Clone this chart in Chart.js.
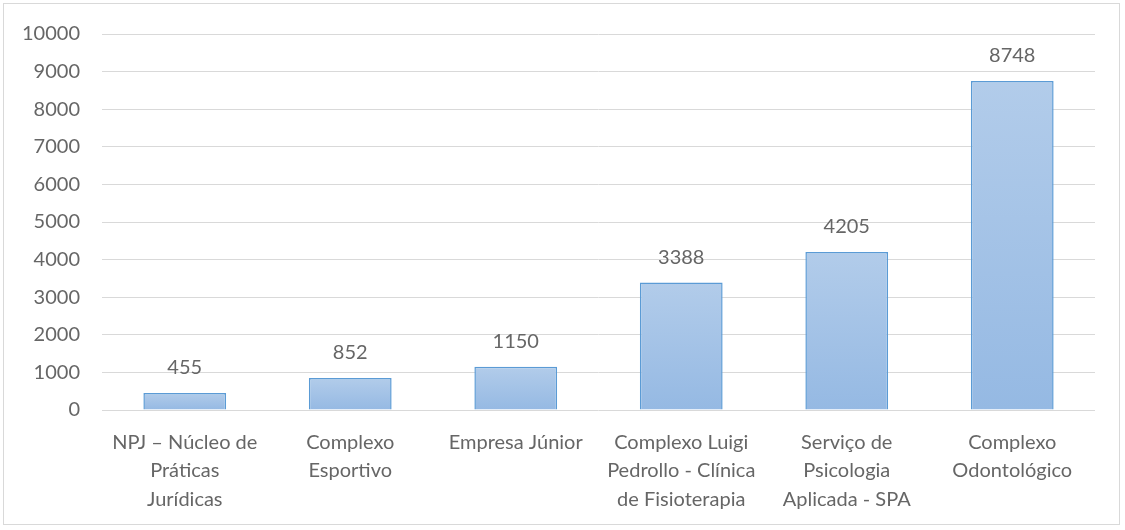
<!DOCTYPE html>
<html>
<head>
<meta charset="utf-8">
<script src="https://cdn.jsdelivr.net/npm/chart.js@4"></script>
<style>
  html, body { margin: 0; padding: 0; background: #fff; }
  #wrap { position: relative; width: 1125px; height: 530px; }
  #frame { position: absolute; left: 3px; top: 3px; width: 1117px; height: 522px; border: 1px solid #D9D9D9; box-sizing: border-box; pointer-events: none; }
</style>
</head>
<body>
<div id="wrap">
  <canvas id="chart" width="1125" height="530"></canvas>
  <div id="frame"></div>
</div>
<script>
const categories = [
    ['NPJ – Núcleo de', 'Práticas', 'Jurídicas'],
    ['Complexo', 'Esportivo'],
    ['Empresa Júnior'],
    ['Complexo Luigi', 'Pedrollo - Clínica', 'de Fisioterapia'],
    ['Serviço de', 'Psicologia', 'Aplicada - SPA'],
    ['Complexo', 'Odontológico']
];
const values = [455, 852, 1150, 3388, 4205, 8748];
const yTicks = [0, 1000, 2000, 3000, 4000, 5000, 6000, 7000, 8000, 9000, 10000];

const FONT = 'Lato, "Open Sans", sans-serif';
const TEXT = '#666666';

const ctx = document.getElementById('chart');

function barFill(context) {
    const chart = context.chart;
    const y = chart.scales.y;
    if (!y || context.parsed == null) return '#A5C2E6';
    const top = y.getPixelForValue(context.parsed.y);
    const bottom = y.getPixelForValue(0);
    if (!isFinite(top) || top === bottom) return '#A5C2E6';
    const g = chart.ctx.createLinearGradient(0, top, 0, bottom);
    g.addColorStop(0, '#B2CCEA');
    g.addColorStop(1, '#95B9E3');
    return g;
}

new Chart(ctx, {
    type: 'bar',
    data: {
        labels: categories,
        datasets: [{
            data: values,
            backgroundColor: barFill,
            borderColor: '#5B9BD5',
            borderWidth: 1.5,
            categoryPercentage: 1,
            barPercentage: 0.5
        }]
    },
    options: {
        responsive: false,
        animation: false,
        layout: { padding: { left: 0, right: 30, top: 30, bottom: 0 } },
        plugins: {
            legend: { display: false },
            tooltip: { enabled: false }
        },
        scales: {
            x: {
                grid: { display: false, drawTicks: false },
                border: { display: false },
                ticks: {
                    color: TEXT,
                    font: { family: FONT, size: 20, lineHeight: 1.43 },
                    padding: 18,
                    maxRotation: 0,
                    autoSkip: false
                },
                afterFit(scale) { scale.height = 120; }
            },
            y: {
                min: 0,
                max: 10000,
                afterBuildTicks(scale) { scale.ticks = yTicks.map(v => ({ value: v })); },
                grid: { color: '#D9D9D9', lineWidth: 1, drawTicks: false },
                border: { display: false },
                ticks: {
                    color: TEXT,
                    font: { family: FONT, size: 20 },
                    padding: 22,
                    callback: v => String(v)
                },
                afterFit(scale) { scale.width = 102; }
            }
        }
    },
    plugins: [{
        id: 'valueLabels',
        afterDatasetsDraw(chart) {
            const { ctx } = chart;
            ctx.save();
            ctx.fillStyle = TEXT;
            ctx.font = '20px ' + FONT;
            ctx.textAlign = 'center';
            ctx.textBaseline = 'alphabetic';
            chart.getDatasetMeta(0).data.forEach((bar, i) => {
                ctx.fillText(values[i], bar.x, bar.y - 19);
            });
            ctx.restore();
        }
    }]
});
</script>
</body>
</html>
